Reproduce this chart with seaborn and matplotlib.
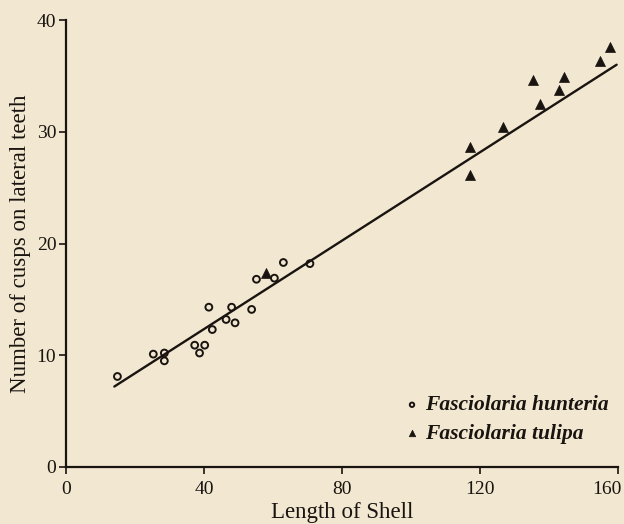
import matplotlib
matplotlib.use("Agg")
import matplotlib.pyplot as plt
from matplotlib.transforms import ScaledTranslation
import seaborn as sns
import pandas as pd

# Fasciolaria hunteria (open circles)
hunteria_length = [14.9, 25.3, 28.5, 28.5, 37.3, 40.2, 38.7, 42.4, 41.4, 46.4, 48.0, 49.0, 53.8, 55.2, 60.4, 63.0, 70.7]
hunteria_cusps = [8.1, 10.1, 10.2, 9.5, 10.9, 10.9, 10.2, 12.3, 14.3, 13.2, 14.3, 12.9, 14.1, 16.8, 16.9, 18.3, 18.2]
# Fasciolaria tulipa (filled triangles)
tulipa_length = [57.9, 117.1, 117.0, 126.6, 135.5, 137.5, 142.9, 144.3, 154.8, 157.8]
tulipa_cusps = [17.4, 28.6, 26.1, 30.4, 34.6, 32.5, 33.7, 34.9, 36.3, 37.6]
# Fitted line as drawn in the original (end points)
fit_length = [14.0, 159.6]
fit_cusps = [7.2, 36.0]

x_ticks = [0, 40, 80, 120, 160]
y_ticks = [0, 10, 20, 30, 40]

df_h = pd.DataFrame({"length": hunteria_length, "cusps": hunteria_cusps})
df_t = pd.DataFrame({"length": tulipa_length, "cusps": tulipa_cusps})
df_fit = pd.DataFrame({"length": fit_length, "cusps": fit_cusps})

bg = "#F2E8D2"
sns.set_style("ticks")
plt.rcParams["font.family"] = ["Liberation Serif", "DejaVu Serif"]

fig = plt.figure(figsize=(6.24, 5.24), dpi=100, facecolor=bg)
ax = fig.add_axes([0.1058, 0.1088, 0.8846, 0.853])
ax.set_facecolor(bg)

ink = "#1a1410"
sns.lineplot(data=df_fit, x="length", y="cusps", ax=ax, color=ink, lw=1.7,
             legend=False, zorder=2)
sns.scatterplot(data=df_h, x="length", y="cusps", ax=ax, marker="o", s=24,
                facecolor="none", edgecolor=ink, linewidth=1.4,
                label="Fasciolaria hunteria", zorder=3)
sns.scatterplot(data=df_t, x="length", y="cusps", ax=ax, marker="^", s=52,
                color=ink, edgecolor=ink, linewidth=0.5,
                label="Fasciolaria tulipa", zorder=3)

ax.set_xlim(0, 160)
ax.set_ylim(0, 40)
ax.set_xticks(x_ticks)
ax.set_yticks(y_ticks)
ax.set_xticklabels([str(v) for v in x_ticks], fontsize=14, color=ink)
ax.set_yticklabels([str(v) for v in y_ticks], fontsize=14, color=ink)
ax.tick_params(direction="out", length=5, width=1.2, color=ink)
ax.tick_params(axis="x", pad=5)
ax.tick_params(axis="y", pad=2)
last = ax.get_xticklabels()[-1]
last.set_horizontalalignment("right")
last.set_transform(last.get_transform() + ScaledTranslation(4 / 100, 0, fig.dpi_scale_trans))

for sp in ["top", "right"]:
    ax.spines[sp].set_visible(False)
for sp in ["left", "bottom"]:
    ax.spines[sp].set_linewidth(1.6)
    ax.spines[sp].set_color(ink)

ax.set_xlabel("Length of Shell", fontsize=16.5, color=ink, labelpad=3)
ax.set_ylabel("Number of cusps on lateral teeth", fontsize=16.5, color=ink, labelpad=4)

leg = ax.legend(loc="center left", bbox_to_anchor=(0.643, 0.199),
                bbox_transform=fig.transFigure, frameon=False,
                borderaxespad=0, borderpad=0,
                prop={"style": "italic", "size": 15.5, "weight": "bold"},
                handletextpad=0.1, labelspacing=0.4, markerscale=0.65,
                handlelength=1.0)
for t in leg.get_texts():
    t.set_color(ink)

fig.savefig("out.png", dpi=100, facecolor=bg)
